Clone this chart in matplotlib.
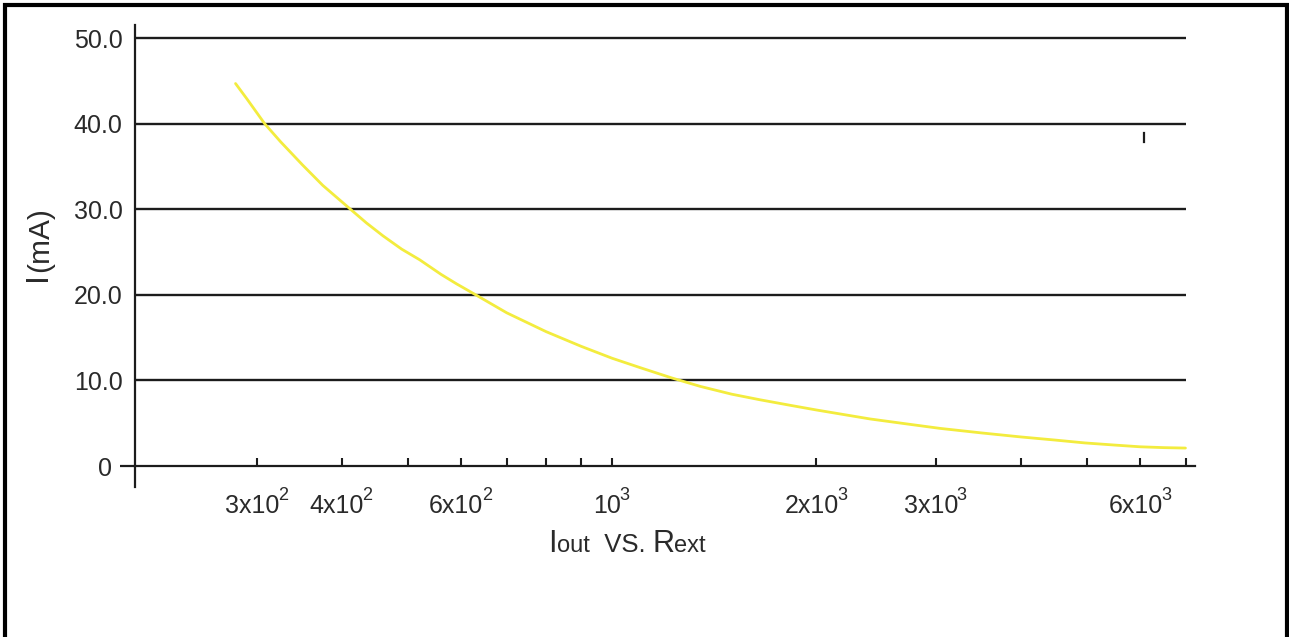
import matplotlib
matplotlib.use("Agg")
import matplotlib.pyplot as plt
from matplotlib.patches import Rectangle
from matplotlib.offsetbox import TextArea, HPacker, AnnotationBbox
from matplotlib.transforms import offset_copy

# Output current vs. external resistor
r_ext_ohm = [279, 290, 308, 325, 350, 375, 410, 435, 460, 490, 521, 560, 590, 627,
             700, 800, 900, 1000, 1100, 1224, 1350, 1500, 1650, 1829, 2000, 2400,
             2700, 3041, 3500, 4000, 4500, 4970, 5500, 5990, 6500, 6990]
i_out_ma = [44.7, 42.9, 40.0, 37.9, 35.2, 32.8, 30.15, 28.4, 26.9, 25.35, 24.1, 22.4, 21.3, 20.1,
            17.9, 15.7, 14.0, 12.6, 11.5, 10.3, 9.3, 8.4, 7.75, 7.1, 6.55, 5.5,
            4.95, 4.4, 3.87, 3.4, 3.03, 2.7, 2.45, 2.25, 2.15, 2.1]

# Axis ticks
x_ticks = [300, 400, 500, 600, 700, 800, 900, 1000, 2000, 3000, 4000, 5000, 6000, 7000]
x_label_at = [300, 400, 600, 1000, 2000, 3000, 6000]
x_label_base = ["3x10", "4x10", "6x10", "10", "2x10", "3x10", "6x10"]
x_label_exp = ["2", "2", "2", "3", "3", "3", "3"]
y_grid = [10, 20, 30, 40, 50]
y_grid_labels = ["10.0", "20.0", "30.0", "40.0", "50.0"]

plt.rcParams["font.family"] = ["Liberation Sans", "DejaVu Sans"]

W, H = 1289, 637
fig = plt.figure(figsize=(W / 100, H / 100), dpi=100)
fig.patch.set_facecolor("white")
renderer = fig.canvas.get_renderer()

ax_left, ax_right, ax_top, ax_bot = 135, 1195, 25, 487
ax = fig.add_axes([ax_left / W, 1 - ax_bot / H, (ax_right - ax_left) / W, (ax_bot - ax_top) / H])
ax.set_xscale("log")
ax.set_xlim(198.4, 7220)
ax.set_ylim(-2.45, 51.54)

ink = "#1c1c1c"
text_col = "#2a2a2a"
tick_size = 18
exp_size = 13

# horizontal grid lines
ax.hlines(y_grid, 198.4, 7000, colors=ink, linewidth=1.7, zorder=2)

# curve
ax.plot(r_ext_ohm, i_out_ma, color="#f3ec3e", linewidth=2.0, solid_capstyle="round", zorder=3)

# small stray dash near the right edge
ax.plot([6070, 6070], [37.9, 38.9], color=ink, linewidth=1.6, zorder=3)

# spines
for s in ["top", "right"]:
    ax.spines[s].set_visible(False)
ax.spines["left"].set_color(ink)
ax.spines["left"].set_linewidth(1.6)
ax.spines["bottom"].set_position(("data", 0))
ax.spines["bottom"].set_color(ink)
ax.spines["bottom"].set_linewidth(1.6)
# short extension of the baseline left of the y axis
ax.plot([-15 / (ax_right - ax_left), 0], [0, 0], transform=ax.get_yaxis_transform(),
        color=ink, linewidth=1.6, clip_on=False, solid_capstyle="butt")

ax.xaxis.set_minor_locator(matplotlib.ticker.NullLocator())
ax.set_xticks(x_ticks)
ax.set_xticklabels([""] * len(x_ticks))
ax.tick_params(axis="x", which="major", direction="in", length=5.5, width=1.5, color=ink)

# x tick labels: base text plus raised exponent attached to its right edge
for xv, base, ex in zip(x_label_at, x_label_base, x_label_exp):
    probe_b = fig.text(0, 0, base, fontsize=tick_size)
    probe_e = fig.text(0, 0, ex, fontsize=exp_size)
    wb = probe_b.get_window_extent(renderer).width
    we = probe_e.get_window_extent(renderer).width
    probe_b.remove()
    probe_e.remove()
    start = -(wb + we) / 2
    tb = ax.text(xv, 0, base, fontsize=tick_size, color=text_col, ha="left", va="baseline",
                 transform=offset_copy(ax.transData, fig=fig, x=start, y=-47, units="dots"))
    ax.annotate(ex, xy=(1, 0), xycoords=tb, xytext=(-1.5, 18), textcoords="offset pixels",
                fontsize=exp_size, color=text_col, ha="left", va="baseline")

ax.set_yticks(y_grid)
ax.set_yticklabels(y_grid_labels)
ax.tick_params(axis="y", length=0, labelsize=tick_size, labelcolor=text_col, pad=9)
ax.text(-23 / (ax_right - ax_left), 0, "0", transform=ax.get_yaxis_transform(),
        ha="right", va="center_baseline", fontsize=tick_size, color=text_col)

# y label: "I(mA)"
yl_i = fig.text(38 / W, 1 - 281 / H, "I", rotation=90, ha="center", va="bottom",
                fontsize=23, color=text_col)
h_i = yl_i.get_window_extent(renderer).height
fig.text(40 / W, 1 - (281 - h_i) / H, "(mA)", rotation=90, ha="center", va="bottom",
         fontsize=21.5, color=text_col)

# x label: "Iout  VS. Rext"
def ta(s, size):
    return TextArea(s, textprops=dict(fontsize=size, color=text_col))

label = HPacker(children=[ta("I", 22), ta("out", 17), ta("  VS. ", 18.5), ta("R", 22), ta("ext", 17)],
                align="baseline", pad=0, sep=0)
ab = AnnotationBbox(label, (627, H - 544), xycoords="figure pixels",
                    box_alignment=(0.5, 0.5), frameon=False, pad=0)
fig.add_artist(ab)

# frame around the figure (open at the bottom)
fig.add_artist(Rectangle((4.7 / W, -0.05), (1287 - 4.7) / W, 0.05 + (H - 4.7) / H,
                         transform=fig.transFigure, fill=False, edgecolor="black",
                         linewidth=3.0, clip_on=False))

fig.savefig("out.png", dpi=100, facecolor="white")
